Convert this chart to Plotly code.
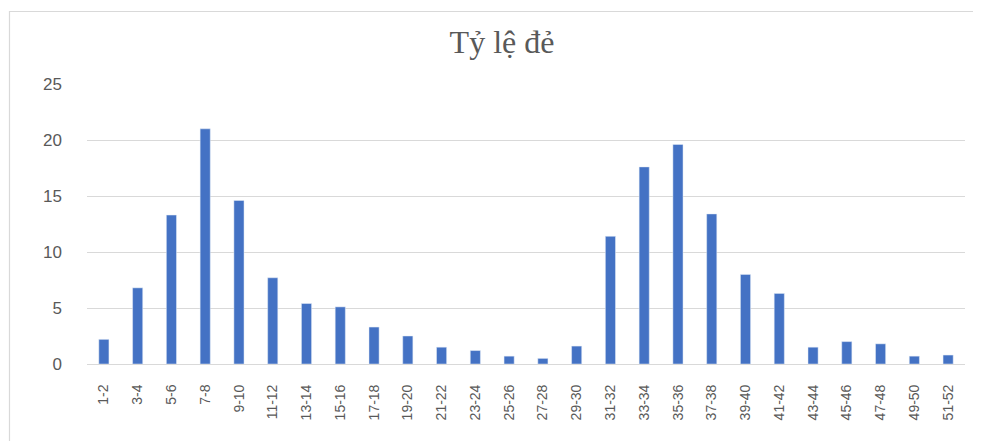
import plotly.graph_objects as go

categories = ["1-2", "3-4", "5-6", "7-8", "9-10", "11-12", "13-14", "15-16", "17-18",
              "19-20", "21-22", "23-24", "25-26", "27-28", "29-30", "31-32", "33-34",
              "35-36", "37-38", "39-40", "41-42", "43-44", "45-46", "47-48", "49-50", "51-52"]
values = [2.2, 6.8, 13.3, 21.0, 14.6, 7.7, 5.4, 5.1, 3.3,
          2.5, 1.5, 1.2, 0.7, 0.5, 1.6, 11.4, 17.6,
          19.6, 13.4, 8.0, 6.3, 1.5, 2.0, 1.8, 0.7, 0.8]
y_ticks = [0, 5, 10, 15, 20, 25]

# page body has an 8px offset
OFF = 8
W, H = 981 - OFF, 441 - OFF
ml, mt = 87 - OFF, 84 - OFF
pw, ph = 878, 280
mr, mb = W - ml - pw, H - mt - ph

fig = go.Figure(go.Bar(x=categories, y=values, marker_color="#4472C4", width=0.3))

def px_to_paper_x(px):
    return (px - OFF - ml) / pw

def px_to_paper_y(py):
    return 1 - (py - OFF - mt) / ph

border = "#d9d9d9"
fig.add_shape(type="line", xref="paper", yref="paper",
              x0=px_to_paper_x(9.5), x1=px_to_paper_x(9.5),
              y0=px_to_paper_y(11), y1=px_to_paper_y(450),
              line=dict(color=border, width=1.2))
fig.add_shape(type="line", xref="paper", yref="paper",
              x0=px_to_paper_x(9), x1=px_to_paper_x(990),
              y0=px_to_paper_y(11.5), y1=px_to_paper_y(11.5),
              line=dict(color=border, width=1.2))

fig.update_layout(
    width=W, height=H,
    margin=dict(l=ml, r=mr, t=mt, b=mb),
    paper_bgcolor="white", plot_bgcolor="white",
    showlegend=False,
    title=dict(text="Tỷ lệ đẻ", x=(502 - OFF) / W, xref="container", xanchor="center",
               y=1 - (42 - OFF) / H, yref="container", yanchor="middle",
               font=dict(family="Liberation Serif", size=32, color="#595959")),
    font=dict(family="Liberation Sans", color="#595959"),
    xaxis=dict(type="category", tickangle=-90, tickfont=dict(size=14, color="#595959"),
               showgrid=False, showline=True, linecolor="#d9d9d9", linewidth=1,
               ticks="", ticklabelstandoff=14),
    yaxis=dict(range=[0, 25], tickvals=y_ticks, tickfont=dict(size=17, color="#595959"),
               showgrid=True, gridcolor="#d9d9d9", gridwidth=1, zeroline=False,
               showline=False, ticks="", ticklabelstandoff=24),
)

fig.write_html("out.html")
